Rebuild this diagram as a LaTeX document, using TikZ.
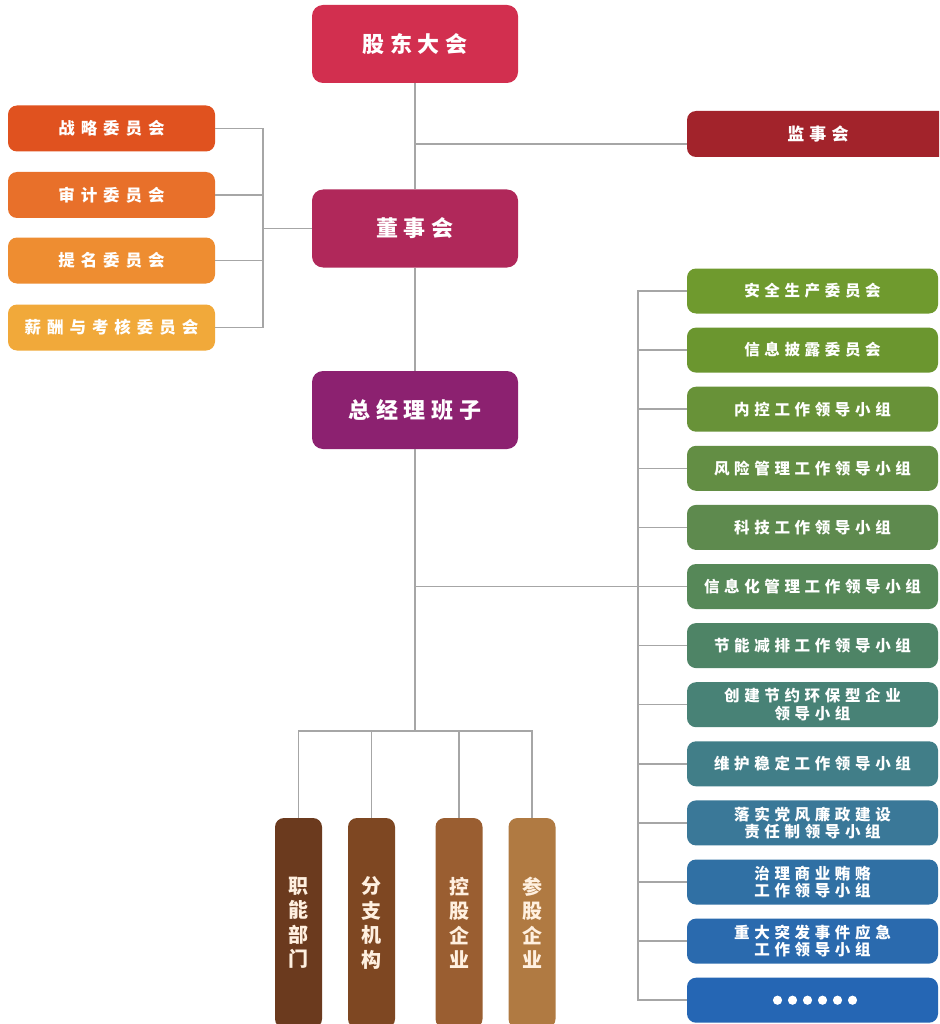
\documentclass[tikz,border=0pt]{standalone}
\usepackage{fontspec}
\newfontfamily\cjkM[LetterSpace=26]{Noto Sans CJK SC}
\newfontfamily\cjkL[LetterSpace=36]{Noto Sans CJK SC}
\newfontfamily\cjkR[LetterSpace=30]{Noto Sans CJK SC}
\newfontfamily\cjkV{Noto Sans CJK SC}
\definecolor{linegray}{HTML}{A6A6A6}
\definecolor{cA}{HTML}{D22F4F}
\definecolor{cB}{HTML}{B0285A}
\definecolor{cC}{HTML}{8C2170}
\definecolor{cJ}{HTML}{A2232B}
\definecolor{l1}{HTML}{E0521F}
\definecolor{l2}{HTML}{E8702A}
\definecolor{l3}{HTML}{EE8D31}
\definecolor{l4}{HTML}{F1A93A}
\definecolor{r1}{HTML}{6F9A2E}
\definecolor{r2}{HTML}{6B962F}
\definecolor{r3}{HTML}{689238}
\definecolor{r4}{HTML}{638E44}
\definecolor{r5}{HTML}{5E8A4E}
\definecolor{r6}{HTML}{568858}
\definecolor{r7}{HTML}{4E8466}
\definecolor{r8}{HTML}{488276}
\definecolor{r9}{HTML}{417E88}
\definecolor{r10}{HTML}{3A7898}
\definecolor{r11}{HTML}{3070A4}
\definecolor{r12}{HTML}{2A6AAE}
\definecolor{r13}{HTML}{2566B4}
\definecolor{b1}{HTML}{6B3A1E}
\definecolor{b2}{HTML}{7E4722}
\definecolor{b3}{HTML}{9A5E31}
\definecolor{b4}{HTML}{B07A42}
\begin{document}
\begin{tikzpicture}[x=1pt,y=-1pt,
  conn/.style={draw=linegray,line width=1.5pt},
  mainbox/.style={rectangle,rounded corners=11pt,inner sep=0pt,minimum width=206pt,minimum height=78pt,text=white,font=\cjkM\bfseries\fontsize{22}{24}\selectfont},
  leftbox/.style={rectangle,rounded corners=9pt,inner sep=0pt,minimum width=207pt,minimum height=46pt,text=white,font=\cjkL\bfseries\fontsize{16.5}{18}\selectfont},
  rightbox/.style={rectangle,rounded corners=9pt,inner sep=0pt,minimum width=251pt,minimum height=45pt,text=white,align=center,font=\cjkR\bfseries\fontsize{15.5}{17.5}\selectfont},
  vbox/.style={rectangle,rounded corners=9pt,inner sep=0pt,minimum width=47pt,minimum height=210pt,text={white!88!orange},align=center,font=\cjkV\bfseries\fontsize{20}{24.5}\selectfont}
]
\useasboundingbox (0,0) rectangle (939,1024);
\clip (0,0) rectangle (939,1024);
\fill[white] (0,0) rectangle (939,1024);

% main column
\node[mainbox,fill=cA] (gd) at (415,44) {股东大会};
\node[mainbox,fill=cB] (ds) at (415,228.5) {董事会};
\node[mainbox,fill=cC] (zj) at (415,410) {总经理班子};
\node[rectangle,rounded corners=9pt,inner sep=0pt,minimum width=262pt,minimum height=46pt,text=white,font=\cjkR\bfseries\fontsize{17}{19}\selectfont,fill=cJ] (js) at (818,134) {监事会};

% left committees
\node[leftbox,fill=l1] (L1) at (111.5,128.5) {战略委员会};
\node[leftbox,fill=l2] (L2) at (111.5,195) {审计委员会};
\node[leftbox,fill=l3] (L3) at (111.5,260.5) {提名委员会};
\node[leftbox,fill=l4] (L4) at (111.5,327.5) {薪酬与考核委员会};

% right column
\node[rightbox,fill=r1] (R1) at (812.5,291) {安全生产委员会};
\node[rightbox,fill=r2] (R2) at (812.5,350.1) {信息披露委员会};
\node[rightbox,fill=r3] (R3) at (812.5,409.2) {内控工作领导小组};
\node[rightbox,fill=r4] (R4) at (812.5,468.3) {风险管理工作领导小组};
\node[rightbox,fill=r5] (R5) at (812.5,527.4) {科技工作领导小组};
\node[rightbox,fill=r6] (R6) at (812.5,586.5) {信息化管理工作领导小组};
\node[rightbox,fill=r7] (R7) at (812.5,645.6) {节能减排工作领导小组};
\node[rightbox,fill=r8] (R8) at (812.5,704.7) {创建节约环保型企业\\领导小组};
\node[rightbox,fill=r9] (R9) at (812.5,763.8) {维护稳定工作领导小组};
\node[rightbox,fill=r10] (R10) at (812.5,822.9) {落实党风廉政建设\\责任制领导小组};
\node[rightbox,fill=r11] (R11) at (812.5,882) {治理商业贿赂\\工作领导小组};
\node[rightbox,fill=r12] (R12) at (812.5,941.1) {重大突发事件应急\\工作领导小组};
\node[rightbox,fill=r13] (R13) at (812.5,1000.2) {};
\foreach \i in {0,...,5} \fill[white] (777.5+\i*15,1000.2) circle (4.6pt);

% bottom boxes
\node[vbox,fill=b1] (B1) at (298.5,923) {职\\能\\部\\门};
\node[vbox,fill=b2] (B2) at (371.5,923) {分\\支\\机\\构};
\node[vbox,fill=b3] (B3) at (459,923) {控\\股\\企\\业};
\node[vbox,fill=b4] (B4) at (532,923) {参\\股\\企\\业};

% connectors
\coordinate (jj) at (415,144);
\coordinate (lj) at (263,228.5);
\coordinate (rv) at (638,586.5);
\coordinate (bj) at (415,731);

\draw[conn] (gd.south) -- (ds.north);
\draw[conn] (ds.south) -- (zj.north);
\draw[conn] (zj.south) -- (bj);
\draw[conn] (jj) -- (js.west |- jj);

\draw[conn] (L1.east) -| (lj);
\draw[conn] (L4.east) -| (lj);
\draw[conn] (L2.east) -- (L2.east -| lj);
\draw[conn] (L3.east) -- (L3.east -| lj);
\draw[conn] (lj) -- (ds.west);

\draw[conn] (zj.south |- rv) -- (rv);
\draw[conn] (R1.west) -| (rv);
\draw[conn] (R13.west) -| (rv);
\foreach \n in {R2,R3,R4,R5,R6,R7,R8,R9,R10,R11,R12}
  \draw[conn] (\n.west) -- (\n.west -| rv);

\draw[conn] (B1.north) |- (bj) -| (B4.north);
\draw[conn] (B2.north) -- (B2.north |- bj);
\draw[conn] (B3.north) -- (B3.north |- bj);
\end{tikzpicture}
\end{document}
